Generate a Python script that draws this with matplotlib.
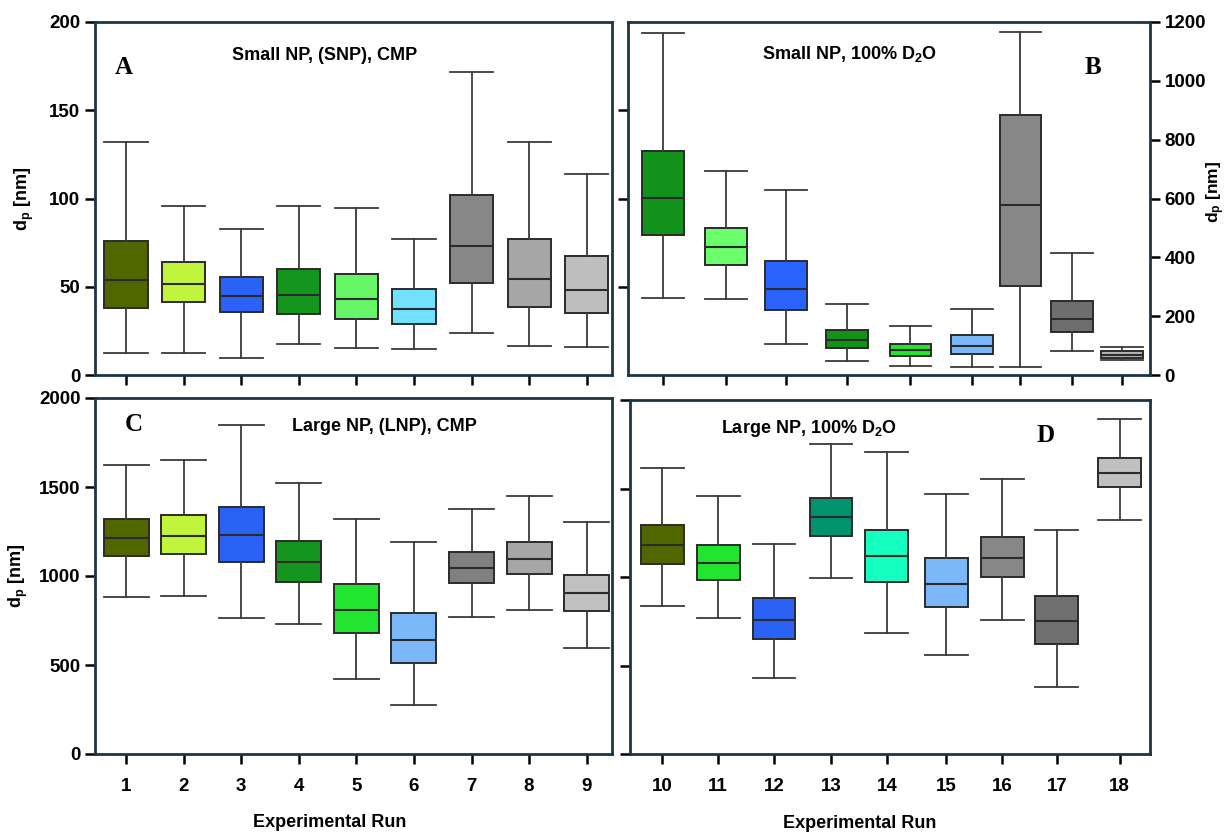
import matplotlib
matplotlib.use('Agg')
import matplotlib.pyplot as plt

plt.rcParams['font.family'] = ['Liberation Sans', 'DejaVu Sans']
plt.rcParams['font.weight'] = 'bold'
plt.rcParams['mathtext.fontset'] = 'custom'
plt.rcParams['mathtext.rm'] = 'Liberation Sans:bold'
plt.rcParams['mathtext.it'] = 'Liberation Sans:bold'
plt.rcParams['mathtext.bf'] = 'Liberation Sans:bold'

# ---- data: whisker low, Q1, median, Q3, whisker high (nm) ----
runs_a = ['1', '2', '3', '4', '5', '6', '7', '8', '9']
a_low = [12.3, 12.3, 9.5, 17.6, 15.5, 15.0, 23.7, 16.5, 15.7]
a_q1 = [38.1, 41.1, 35.8, 34.3, 32.0, 29.0, 52.1, 38.5, 35.1]
a_med = [54.0, 51.4, 44.9, 45.5, 43.0, 37.3, 73.0, 54.4, 48.3]
a_q3 = [75.8, 64.1, 55.5, 60.1, 57.4, 48.7, 101.8, 76.8, 67.7]
a_high = [131.8, 95.7, 83.0, 95.7, 94.8, 76.8, 171.9, 131.8, 113.9]

runs_b = ['10', '11', '12', '13', '14', '15', '16', '17', '18']
b_low = [263, 258, 104, 47, 32, 28, 28, 80, 50]
b_q1 = [476, 374, 222, 93, 63, 72, 302, 145, 58]
b_med = [602, 434, 293, 120, 84, 100, 578, 191, 68]
b_q3 = [760, 500, 389, 153, 106, 136, 884, 252, 80]
b_high = [1162, 692, 628, 240, 168, 226, 1166, 416, 94]

runs_c = runs_a
c_low = [880, 886, 766, 733, 422, 275, 768, 809, 594]
c_q1 = [1112, 1123, 1080, 968, 680, 514, 959, 1009, 806]
c_med = [1215, 1226, 1228, 1080, 807, 643, 1043, 1097, 905]
c_q3 = [1323, 1342, 1385, 1196, 953, 791, 1133, 1193, 1007]
c_high = [1622, 1650, 1850, 1525, 1323, 1189, 1376, 1447, 1303]

runs_d = runs_b
d_low = [834, 766, 430, 996, 682, 557, 757, 378, 1323]
d_q1 = [1071, 981, 650, 1234, 974, 828, 1000, 622, 1508]
d_med = [1181, 1077, 757, 1338, 1116, 959, 1108, 751, 1589]
d_q3 = [1293, 1179, 879, 1449, 1267, 1105, 1226, 893, 1671]
d_high = [1613, 1460, 1187, 1750, 1707, 1469, 1553, 1264, 1890]

colors_a = ['#506700', '#C0F53C', '#2962F5', '#14961E', '#66F566', '#72E0FF', '#878787', '#A6A6A6', '#BEBEBE']
colors_b = ['#12921A', '#6CFF6C', '#2962FF', '#12921A', '#22E62A', '#7AB8FA', '#878787', '#6E6E6E', '#B4B4B4']
colors_c = ['#506700', '#C0F53C', '#2962F5', '#14961E', '#22E530', '#7AB8FA', '#808080', '#A6A6A6', '#C0C0C0']
colors_d = ['#506700', '#22E530', '#2962F5', '#00936E', '#14FFC0', '#7AB8FA', '#878787', '#707070', '#C0C0C0']

# box positions (ticks are not evenly spaced in the right column)
pos_ac = [1, 2, 3, 4, 5, 6, 7, 8, 9]
pos_b = [1, 2.02, 3.0, 4.0, 5.03, 6.03, 6.82, 7.66, 8.48]
pos_d = [1, 1.99, 2.98, 3.99, 4.98, 6.03, 7.02, 7.99, 9.1]

FRAME = '#1B3646'
EDGE = '#2b2b2b'
TICK_FS = 13.5
LABEL_FS = 13
TITLE_FS = 13


def make_stats(low, q1, med, q3, high):
    return [dict(whislo=l, q1=a, med=m, q3=b, whishi=h, fliers=[])
            for l, a, m, b, h in zip(low, q1, med, q3, high)]


def draw_boxes(ax, stats, positions, colors, width):
    bp = ax.bxp(stats, positions=positions, widths=width, patch_artist=True,
                showfliers=False, capwidths=width,
                boxprops=dict(edgecolor=EDGE, linewidth=1.4),
                whiskerprops=dict(color='#3a3a3a', linewidth=1.3),
                capprops=dict(color='#3a3a3a', linewidth=1.3),
                medianprops=dict(color=EDGE, linewidth=1.5))
    for patch, c in zip(bp['boxes'], colors):
        patch.set_facecolor(c)


def style_frame(ax):
    for s in ax.spines.values():
        s.set_color(FRAME)
        s.set_linewidth(2.0)
    ax.tick_params(axis='both', direction='out', length=7, width=1.8,
                   color='black', labelsize=TICK_FS)


fig = plt.figure(figsize=(12.31, 8.36), dpi=100)
ax_a = fig.add_axes([95 / 1231, 1 - 375 / 836, 517 / 1231, 353 / 836])
ax_b = fig.add_axes([628 / 1231, 1 - 375 / 836, 522 / 1231, 353 / 836])
ax_c = fig.add_axes([95 / 1231, 1 - 754 / 836, 517 / 1231, 356 / 836])
ax_d = fig.add_axes([630 / 1231, 1 - 754 / 836, 520 / 1231, 354 / 836])

# panel A
draw_boxes(ax_a, make_stats(a_low, a_q1, a_med, a_q3, a_high), pos_ac, colors_a, 0.75)
ax_a.set_xlim(0.46, 9.44)
ax_a.set_ylim(0, 200)
ax_a.set_yticks([0, 50, 100, 150, 200])
ax_a.set_xticks(pos_ac)
ax_a.set_xticklabels([])
style_frame(ax_a)
ax_a.set_ylabel(r'd$_\mathrm{p}$ [nm]', fontsize=LABEL_FS, fontweight='bold')
ax_a.yaxis.set_label_coords(-0.115, 0.5)
ax_a.text(0.445, 0.905, 'Small NP, (SNP), CMP', transform=ax_a.transAxes,
          ha='center', va='center', fontsize=TITLE_FS, fontweight='bold')
ax_a.text(0.055, 0.87, 'A', transform=ax_a.transAxes, ha='center', va='center',
          fontsize=18, fontweight='bold', family='Liberation Serif')

# panel B
draw_boxes(ax_b, make_stats(b_low, b_q1, b_med, b_q3, b_high), pos_b, colors_b, 0.68)
ax_b.set_xlim(0.43, 8.93)
ax_b.set_ylim(0, 1200)
ax_b.yaxis.tick_right()
ax_b.yaxis.set_label_position('right')
ax_b.set_yticks([0, 200, 400, 600, 800, 1000, 1200])
ax_b.set_xticks(pos_b)
ax_b.set_xticklabels([])
style_frame(ax_b)
ax_b.set_ylabel(r'd$_\mathrm{p}$ [nm]', fontsize=12.5, fontweight='bold')
ax_b.yaxis.set_label_coords(1.104, 0.52)
left_b = ax_b.secondary_yaxis('left')
left_b.set_yticks([300, 600, 900])
left_b.set_yticklabels([])
left_b.spines['left'].set_visible(False)
left_b.tick_params(direction='out', length=7, width=1.8, color='black')
ax_b.text(0.425, 0.91, r'Small NP, 100% D$_\mathrm{2}$O', transform=ax_b.transAxes,
          ha='center', va='center', fontsize=TITLE_FS, fontweight='bold')
ax_b.text(0.89, 0.87, 'B', transform=ax_b.transAxes, ha='center', va='center',
          fontsize=18, fontweight='bold', family='Liberation Serif')

# panel C
draw_boxes(ax_c, make_stats(c_low, c_q1, c_med, c_q3, c_high), pos_ac, colors_c, 0.78)
ax_c.set_xlim(0.46, 9.44)
ax_c.set_ylim(0, 2000)
ax_c.set_yticks([0, 500, 1000, 1500, 2000])
ax_c.set_xticks(pos_ac)
ax_c.set_xticklabels(runs_c)
style_frame(ax_c)
ax_c.tick_params(axis='x', pad=10)
ax_c.set_ylabel(r'd$_\mathrm{p}$ [nm]', fontsize=LABEL_FS, fontweight='bold')
ax_c.yaxis.set_label_coords(-0.125, 0.5)
ax_c.set_xlabel('Experimental Run', fontsize=LABEL_FS, fontweight='bold')
ax_c.xaxis.set_label_coords(0.453, -0.168)
ax_c.text(0.56, 0.92, 'Large NP, (LNP), CMP', transform=ax_c.transAxes,
          ha='center', va='center', fontsize=TITLE_FS, fontweight='bold')
ax_c.text(0.075, 0.925, 'C', transform=ax_c.transAxes, ha='center', va='center',
          fontsize=18, fontweight='bold', family='Liberation Serif')

# panel D
draw_boxes(ax_d, make_stats(d_low, d_q1, d_med, d_q3, d_high), pos_d, colors_d, 0.76)
ax_d.set_xlim(0.43, 9.64)
ax_d.set_ylim(0, 2000)
ax_d.set_yticks([0, 500, 1000, 1500, 2000])
ax_d.set_yticklabels([])
ax_d.set_xticks(pos_d)
ax_d.set_xticklabels(runs_d)
style_frame(ax_d)
ax_d.tick_params(axis='x', pad=10)
ax_d.set_xlabel('Experimental Run', fontsize=LABEL_FS, fontweight='bold')
ax_d.xaxis.set_label_coords(0.442, -0.172)
ax_d.text(0.345, 0.92, r'Large NP, 100% D$_\mathrm{2}$O', transform=ax_d.transAxes,
          ha='center', va='center', fontsize=TITLE_FS, fontweight='bold')
ax_d.text(0.8, 0.9, 'D', transform=ax_d.transAxes, ha='center', va='center',
          fontsize=18, fontweight='bold', family='Liberation Serif')

plt.savefig('out.png', dpi=100)
